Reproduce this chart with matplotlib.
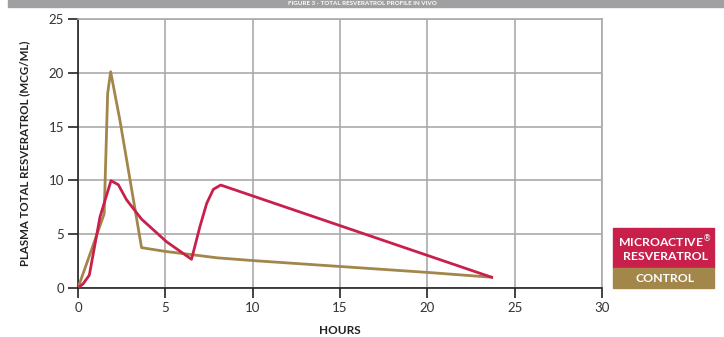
import matplotlib
matplotlib.use("Agg")
import matplotlib.pyplot as plt
from matplotlib.patches import Rectangle

# Microactive resveratrol (red) - hours vs mcg/ml
micro_hours = [0, 0.3, 0.65, 1.26, 1.89, 2.31, 2.78, 3.64, 5.07, 6.5, 6.98, 7.37, 7.75, 8.17, 23.68]
micro_conc = [0, 0.4, 1.2, 6.6, 9.97, 9.6, 8.2, 6.4, 4.3, 2.67, 5.7, 7.87, 9.17, 9.57, 1.0]

# Control (gold)
ctrl_hours = [0, 0.7, 1.5, 1.7, 1.87, 2.4, 3.64, 5, 8, 10, 15, 20, 23.68]
ctrl_conc = [0, 3.2, 6.9, 18.1, 20.1, 15.6, 3.75, 3.4, 2.8, 2.55, 2.0, 1.45, 1.0]

x_ticks = [0, 5, 10, 15, 20, 25, 30]
y_ticks = [0, 5, 10, 15, 20, 25]

red = "#C91F4B"
gold = "#A2864A"
plt.rcParams['font.family'] = ['Lato', 'DejaVu Sans']

fig = plt.figure(figsize=(7.24, 3.37), dpi=100)
ax = fig.add_axes([0.1077, 0.1454, 0.7238, 0.7982])

ax.plot(ctrl_hours, ctrl_conc, color=gold, lw=2.0, zorder=3)
ax.plot(micro_hours, micro_conc, color=red, lw=2.0, zorder=4)

ax.set_xlim(0, 30)
ax.set_ylim(0, 25)
ax.set_xticks(x_ticks)
ax.set_yticks(y_ticks)
ax.grid(True, color="#AAAAAA", lw=1.2)
ax.set_axisbelow(True)
for s in ["top", "right"]:
    ax.spines[s].set_color("#AAAAAA")
    ax.spines[s].set_linewidth(1.2)
for s in ["left", "bottom"]:
    ax.spines[s].set_color("#222222")
    ax.spines[s].set_linewidth(1.2)
ax.tick_params(length=7, width=1.2, color="#222222", labelsize=9.5, labelcolor="#333333", pad=3)

ax.set_xlabel("HOURS", fontsize=8.5, fontweight="bold", color="#222222", labelpad=8)
ax.set_ylabel("PLASMA TOTAL RESVERATROL (MCG/ML)", fontsize=8.3, fontweight="bold",
              color="#222222", labelpad=13)

# legend boxes
fig.patches.append(Rectangle((613 / 724, 1 - 268 / 337), 101 / 724, 40 / 337,
                             transform=fig.transFigure, color=red, zorder=0))
fig.patches.append(Rectangle((613 / 724, 1 - 288 / 337), 101 / 724, 20 / 337,
                             transform=fig.transFigure, color=gold, zorder=0))
fig.text(665 / 724, 1 - 248 / 337, "MICROACTIVE$^{®}$\nRESVERATROL", ha="center", va="center",
         color="white", fontsize=8.8, fontweight="bold", linespacing=1.1)
fig.text(665 / 724, 1 - 278.5 / 337, "CONTROL", ha="center", va="center",
         color="white", fontsize=8.8, fontweight="bold")

# title banner (clipped in the original)
fig.patches.append(Rectangle((8 / 724, 1 - 7 / 337), 716 / 724, 7 / 337,
                             transform=fig.transFigure, color="#A0A0A2", zorder=0))
fig.text(0.5, 1 - 3.5 / 337, "FIGURE 3 - TOTAL RESVERATROL PROFILE IN VIVO", ha="center", va="center",
         color="white", fontsize=4.5, fontweight="bold")

fig.savefig("out.png", dpi=100)
